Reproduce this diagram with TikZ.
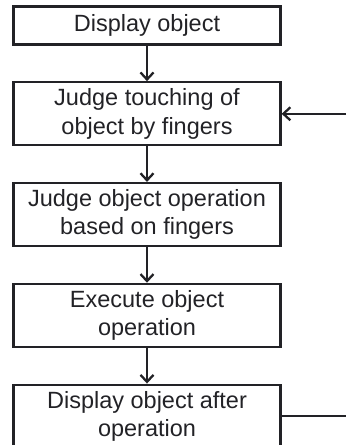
\documentclass[tikz,border=0pt]{standalone}
\usepackage{fontspec}
\setmainfont{Liberation Sans}
\usetikzlibrary{positioning,arrows.meta}
\definecolor{ink}{RGB}{34,34,38}
\newlength\boxWidth
\setlength\boxWidth{267pt}
\newlength\boxHeight
\setlength\boxHeight{63pt}
\newlength\ySep
\setlength\ySep{35.5pt}
\tikzset{
  stepbox/.style={draw=ink,line width=2.3pt,minimum width=\boxWidth,minimum height=\boxHeight,
    inner sep=0pt,align=center,text=ink,font=\fontsize{23.5}{28.5}\selectfont},
  flow/.style={draw=ink,line width=2.3pt,-{Straight Barb[length=7pt,width=13pt]}}
}

\begin{document}
\begin{tikzpicture}
    \clip (0,0) rectangle (346pt,-445pt);
    \useasboundingbox (0,0) rectangle (346pt,-445pt);

    \node[stepbox,minimum height=38pt] (display) at (147pt,-25.5pt) {Display object};
    \node[stepbox,below=\ySep of display] (touch) {Judge touching of\\object by fingers};
    \node[stepbox,below=\ySep of touch] (judge) {Judge object operation\\based on fingers};
    \node[stepbox,below=\ySep of judge] (execute) {Execute object\\operation};
    \node[stepbox,below=\ySep of execute] (after) {Display object after\\operation};

    \foreach \a/\b in {display/touch,touch/judge,judge/execute,execute/after} {
      \draw[flow] (\a) -- (\b);
    }

    % loop back from the right edge
    \coordinate (loopIn) at (346pt,0 |- touch.east);
    \coordinate (loopOut) at (346pt,0 |- after.east);
    \draw[flow] (loopIn) -- (touch.east);
    \draw[draw=ink,line width=2.3pt] (after.east) -- (loopOut);
\end{tikzpicture}
\end{document}
